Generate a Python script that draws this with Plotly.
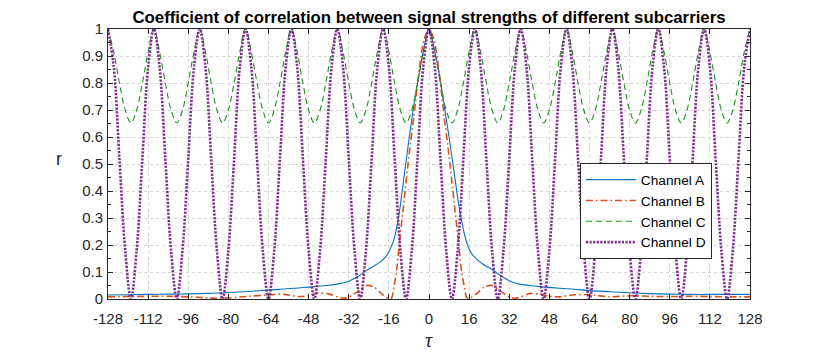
import plotly.graph_objects as go

# ---------------- data ----------------
tau_ab = [-128, -120, -112, -104, -96, -88, -84, -80, -72, -64, -58, -52, -48, -44, -40,
          -36, -34, -32, -28, -25, -22, -19, -17, -16, -15, -14, -13, -12, -10, -8, -6, -4, -2,
          0, 2, 4, 6, 8, 10, 12, 13, 14, 15, 16, 17, 19, 22, 25, 28, 32, 34, 36, 40, 44, 48,
          52, 58, 64, 72, 80, 88, 96, 104, 112, 120, 128]

channel_a = [0.015, 0.016, 0.017, 0.018, 0.019, 0.021, 0.022, 0.024, 0.028, 0.033, 0.037, 0.041,
             0.044, 0.047, 0.051, 0.056, 0.060, 0.066, 0.085, 0.105, 0.122, 0.140, 0.160, 0.175,
             0.195, 0.220, 0.260, 0.310, 0.450, 0.590, 0.720, 0.830, 0.930,
             1.000, 0.930, 0.840, 0.720, 0.600, 0.470, 0.340, 0.290, 0.245, 0.210, 0.185, 0.168,
             0.148, 0.126, 0.110, 0.090, 0.068, 0.060, 0.055, 0.050, 0.046, 0.043, 0.040, 0.036,
             0.031, 0.027, 0.023, 0.020, 0.018, 0.017, 0.017, 0.017, 0.017]

channel_b = [0.008, 0.009, 0.010, 0.010, 0.008, 0.004, 0.002, 0.004, 0.010, 0.015, 0.017, 0.009,
             0.012, 0.022, 0.019, 0.006, 0.003, 0.007, 0.030, 0.050, 0.045, 0.020, 0.006, 0.002,
             0.003, 0.045, 0.100, 0.190, 0.360, 0.530, 0.680, 0.840, 0.960,
             1.000, 0.960, 0.840, 0.680, 0.530, 0.360, 0.190, 0.100, 0.050, 0.006, 0.002, 0.006,
             0.020, 0.044, 0.050, 0.032, 0.008, 0.003, 0.005, 0.020, 0.018, 0.010, 0.008, 0.016,
             0.016, 0.008, 0.012, 0.010, 0.009, 0.010, 0.009, 0.008, 0.008]

tau_cd = [-128.0, -125.71, -123.43, -121.14, -118.86, -116.57, -114.29, -112.0,
          -109.71, -107.43, -105.14, -102.86, -100.57, -98.29, -96.0,
          -93.71, -91.43, -89.14, -86.86, -84.57, -82.29, -80.0,
          -77.71, -75.43, -73.14, -70.86, -68.57, -66.29, -64.0,
          -61.71, -59.43, -57.14, -54.86, -52.57, -50.29, -48.0,
          -45.71, -43.43, -41.14, -38.86, -36.57, -34.29, -32.0,
          -29.71, -27.43, -25.14, -22.86, -20.57, -18.29, -16.0,
          -13.71, -11.43, -9.14, -6.86, -4.57, -2.29, 0.0,
          2.29, 4.57, 6.86, 9.14, 11.43, 13.71, 16.0,
          18.29, 20.57, 22.86, 25.14, 27.43, 29.71, 32.0,
          34.29, 36.57, 38.86, 41.14, 43.43, 45.71, 48.0,
          50.29, 52.57, 54.86, 57.14, 59.43, 61.71, 64.0,
          66.29, 68.57, 70.86, 73.14, 75.43, 77.71, 80.0,
          82.29, 84.57, 86.86, 89.14, 91.43, 93.71, 96.0,
          98.29, 100.57, 102.86, 105.14, 107.43, 109.71, 112.0,
          114.29, 116.57, 118.86, 121.14, 123.43, 125.71, 128.0]

channel_c = [1.0, 0.915, 0.80, 0.70, 0.652, 0.70, 0.80, 0.915,
             1.0, 0.915, 0.80, 0.70, 0.652, 0.70, 0.80, 0.915,
             1.0, 0.915, 0.80, 0.70, 0.652, 0.70, 0.80, 0.915,
             1.0, 0.915, 0.80, 0.70, 0.652, 0.70, 0.80, 0.915,
             1.0, 0.915, 0.80, 0.70, 0.652, 0.70, 0.80, 0.915,
             1.0, 0.915, 0.80, 0.70, 0.652, 0.70, 0.80, 0.915,
             1.0, 0.915, 0.80, 0.70, 0.652, 0.70, 0.80, 0.915,
             1.0, 0.915, 0.80, 0.70, 0.652, 0.70, 0.80, 0.915,
             1.0, 0.915, 0.80, 0.70, 0.652, 0.70, 0.80, 0.915,
             1.0, 0.915, 0.80, 0.70, 0.652, 0.70, 0.80, 0.915,
             1.0, 0.915, 0.80, 0.70, 0.652, 0.70, 0.80, 0.915,
             1.0, 0.915, 0.80, 0.70, 0.652, 0.70, 0.80, 0.915,
             1.0, 0.915, 0.80, 0.70, 0.652, 0.70, 0.80, 0.915,
             1.0, 0.915, 0.80, 0.70, 0.652, 0.70, 0.80, 0.915,
             1.0]

channel_d = [1.0, 0.86, 0.52, 0.18, 0.0, 0.18, 0.52, 0.86,
             1.0, 0.86, 0.52, 0.18, 0.0, 0.18, 0.52, 0.86,
             1.0, 0.86, 0.52, 0.18, 0.0, 0.18, 0.52, 0.86,
             1.0, 0.86, 0.52, 0.18, 0.0, 0.18, 0.52, 0.86,
             1.0, 0.86, 0.52, 0.18, 0.0, 0.18, 0.52, 0.86,
             1.0, 0.86, 0.52, 0.18, 0.0, 0.18, 0.52, 0.86,
             1.0, 0.86, 0.52, 0.18, 0.0, 0.18, 0.52, 0.86,
             1.0, 0.86, 0.52, 0.18, 0.0, 0.18, 0.52, 0.86,
             1.0, 0.86, 0.52, 0.18, 0.0, 0.18, 0.52, 0.86,
             1.0, 0.86, 0.52, 0.18, 0.0, 0.18, 0.52, 0.86,
             1.0, 0.86, 0.52, 0.18, 0.0, 0.18, 0.52, 0.86,
             1.0, 0.86, 0.52, 0.18, 0.0, 0.18, 0.52, 0.86,
             1.0, 0.86, 0.52, 0.18, 0.0, 0.18, 0.52, 0.86,
             1.0, 0.86, 0.52, 0.18, 0.0, 0.18, 0.52, 0.86,
             1.0]

x_ticks = [-128, -112, -96, -80, -64, -48, -32, -16, 0, 16, 32, 48, 64, 80, 96, 112, 128]
x_tick_labels = ["-128", "-112", "-96", "-80", "-64", "-48", "-32", "-16", "0",
                 "16", "32", "48", "64", "80", "96", "112", "128"]
y_ticks = [0, 0.1, 0.2, 0.3, 0.4, 0.5, 0.6, 0.7, 0.8, 0.9, 1.0]
y_tick_labels = ["0", "0.1", "0.2", "0.3", "0.4", "0.5", "0.6", "0.7", "0.8", "0.9", "1"]
y_minor_ticks = [0.05, 0.15, 0.25, 0.35, 0.45, 0.55, 0.65, 0.75, 0.85, 0.95]

series_names = ["Channel A", "Channel B", "Channel C", "Channel D"]
title_text = "Coefficient of correlation between signal strengths of different subcarriers"

# ---------------- figure ----------------
# the page body has an 8px margin, so the figure is 8px smaller and offset
FONT = "Liberation Sans, Arial, Helvetica, sans-serif"
AXC = "#262626"
W, H = 822, 348

fig = go.Figure()
fig.add_trace(go.Scatter(x=tau_ab, y=channel_a, name=series_names[0], mode="lines",
                         line=dict(color="#0072BD", width=1.1, shape="spline", smoothing=0.8)))
fig.add_trace(go.Scatter(x=tau_ab, y=channel_b, name=series_names[1], mode="lines",
                         line=dict(color="#D95319", width=1.6, dash="7px,3px,1.6px,3px",
                                   shape="spline", smoothing=0.8)))
fig.add_trace(go.Scatter(x=tau_cd, y=channel_c, name=series_names[2], mode="lines",
                         line=dict(color="#1A921A", width=1.1, dash="6px,4px",
                                   shape="spline", smoothing=1.0)))
fig.add_trace(go.Scatter(x=tau_cd, y=channel_d, name=series_names[3], mode="lines",
                         line=dict(color="#7E2F8E", width=2.6, dash="2.2px,1.4px",
                                   shape="spline", smoothing=1.0)))

fig.update_layout(
    width=W, height=H,
    margin=dict(l=100, r=80, t=19, b=57),
    paper_bgcolor="white", plot_bgcolor="white",
    font=dict(family=FONT, size=15, color=AXC),
    title=dict(text="<b>" + title_text + "</b>", x=0.5, xref="paper",
               y=1 - 9.5 / H, yref="container", yanchor="middle",
               font=dict(family=FONT, size=16.8, color="black")),
    showlegend=True,
    legend=dict(x=0.735, y=0.325, xanchor="left", yanchor="middle",
                bgcolor="white", bordercolor=AXC, borderwidth=1,
                font=dict(family=FONT, size=13.7, color="black"),
                tracegroupgap=0, itemwidth=50),
    xaxis=dict(range=[-128, 128], tickvals=x_ticks, ticktext=x_tick_labels,
               ticks="inside", ticklen=5, tickcolor=AXC, tickwidth=1,
               showline=True, linecolor=AXC, linewidth=1, mirror="ticks",
               showgrid=True, gridcolor="#d4d4d4", griddash="dot", gridwidth=1,
               zeroline=False, ticklabelstandoff=6,
               tickfont=dict(family=FONT, size=15, color=AXC)),
    yaxis=dict(range=[0, 1], tickvals=y_ticks, ticktext=y_tick_labels,
               ticks="inside", ticklen=5, tickcolor=AXC, tickwidth=1,
               showline=True, linecolor=AXC, linewidth=1, mirror="ticks",
               showgrid=True, gridcolor="#d4d4d4", griddash="dot", gridwidth=1,
               zeroline=False, ticklabelstandoff=1,
               minor=dict(tickvals=y_minor_ticks, ticks="inside", ticklen=3,
                          tickcolor=AXC, showgrid=False),
               tickfont=dict(family=FONT, size=15, color=AXC)),
    annotations=[
        dict(text="r", x=-0.077, y=0.52, xref="paper", yref="paper",
             showarrow=False, xanchor="center", yanchor="middle",
             font=dict(family=FONT, size=18, color=AXC)),
        dict(text="<i>τ</i>", x=0.5, y=-0.15, xref="paper", yref="paper",
             showarrow=False, xanchor="center", yanchor="middle",
             font=dict(family="Liberation Serif, DejaVu Serif, serif", size=20, color=AXC)),
    ],
)

fig.write_html("out.html")
